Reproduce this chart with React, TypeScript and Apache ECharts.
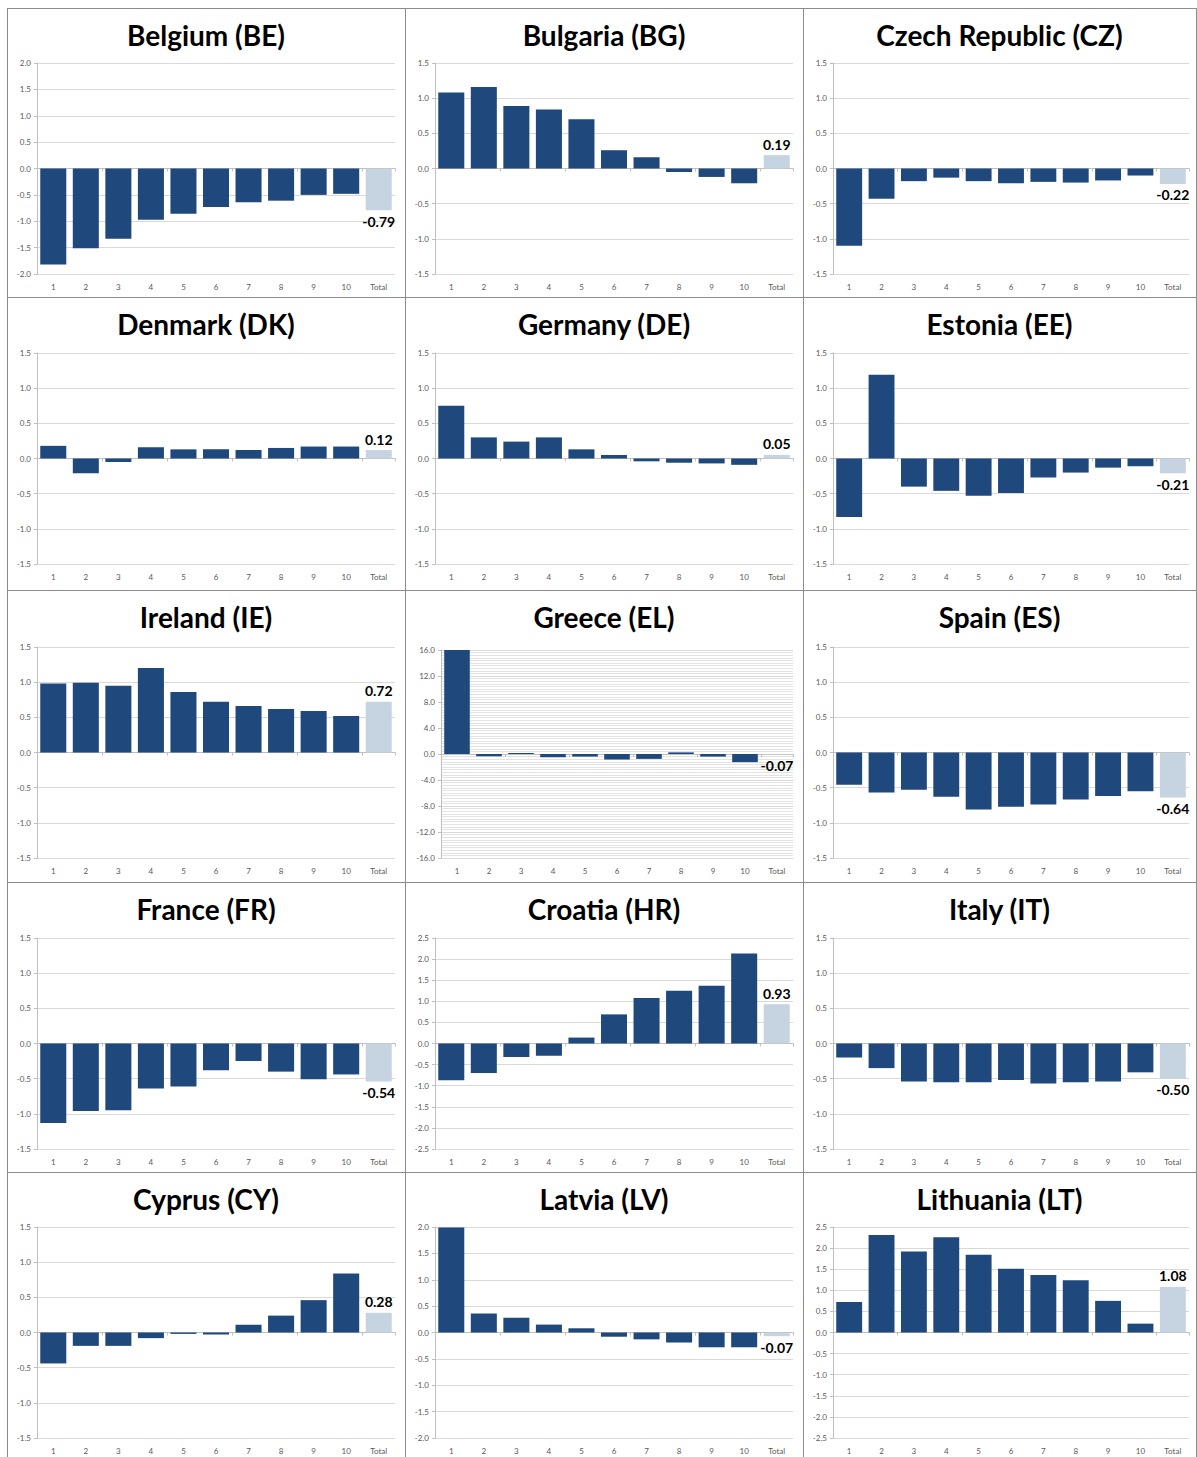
import React, { useEffect, useRef } from "react";
import * as echarts from "echarts";

const categories = ["1", "2", "3", "4", "5", "6", "7", "8", "9", "10", "Total"];

const titles = [
  "Belgium (BE)", "Bulgaria (BG)", "Czech Republic (CZ)",
  "Denmark (DK)", "Germany (DE)", "Estonia (EE)",
  "Ireland (IE)", "Greece (EL)", "Spain (ES)",
  "France (FR)", "Croatia (HR)", "Italy (IT)",
  "Cyprus (CY)", "Latvia (LV)", "Lithuania (LT)",
];

// deciles 1..10 followed by Total
const BE = [-1.82, -1.51, -1.33, -0.97, -0.86, -0.73, -0.64, -0.61, -0.5, -0.48, -0.79];
const BG = [1.08, 1.16, 0.89, 0.84, 0.7, 0.26, 0.16, -0.05, -0.12, -0.21, 0.19];
const CZ = [-1.1, -0.43, -0.18, -0.13, -0.18, -0.21, -0.19, -0.2, -0.17, -0.1, -0.22];
const DK = [0.18, -0.21, -0.05, 0.16, 0.13, 0.13, 0.12, 0.15, 0.17, 0.17, 0.12];
const DE = [0.75, 0.3, 0.24, 0.3, 0.13, 0.05, -0.04, -0.06, -0.07, -0.09, 0.05];
const EE = [-0.83, 1.19, -0.4, -0.46, -0.53, -0.49, -0.27, -0.2, -0.13, -0.11, -0.21];
const IE = [0.98, 0.99, 0.95, 1.2, 0.86, 0.72, 0.66, 0.62, 0.59, 0.52, 0.72];
const EL = [16.0, -0.35, 0.15, -0.5, -0.4, -0.85, -0.75, 0.25, -0.4, -1.25, -0.07];
const ES = [-0.46, -0.57, -0.53, -0.63, -0.81, -0.77, -0.74, -0.67, -0.62, -0.55, -0.64];
const FR = [-1.13, -0.96, -0.95, -0.64, -0.61, -0.38, -0.25, -0.4, -0.51, -0.44, -0.54];
const HR = [-0.87, -0.7, -0.32, -0.29, 0.14, 0.69, 1.08, 1.25, 1.37, 2.13, 0.93];
const IT = [-0.2, -0.35, -0.54, -0.55, -0.55, -0.52, -0.57, -0.55, -0.54, -0.41, -0.5];
const CY = [-0.44, -0.19, -0.19, -0.08, -0.02, -0.03, 0.11, 0.24, 0.46, 0.84, 0.28];
const LV = [1.99, 0.36, 0.28, 0.15, 0.08, -0.08, -0.13, -0.19, -0.28, -0.28, -0.07];
const LT = [0.72, 2.31, 1.92, 2.26, 1.84, 1.51, 1.36, 1.24, 0.75, 0.21, 1.08];

const seriesValues = [BE, BG, CZ, DK, DE, EE, IE, EL, ES, FR, HR, IT, CY, LV, LT];

// symmetric y-axis extent and major step per panel
const axisMax = [2, 1.5, 1.5, 1.5, 1.5, 1.5, 1.5, 16, 1.5, 1.5, 2.5, 1.5, 1.5, 2, 2.5];
const axisStep = [0.5, 0.5, 0.5, 0.5, 0.5, 0.5, 0.5, 4, 0.5, 0.5, 0.5, 0.5, 0.5, 0.5, 0.5];

const DARK = "#1f497d";
const LIGHT = "#c6d3e1";
const FONT = "Lato, 'Liberation Sans', sans-serif";

const colLeft = [7, 405, 803];
const colRight = [405, 803, 1196];
const rowTop = [8, 297, 590, 882, 1172];
const gridTop = [63, 353, 647, 938, 1227];

export default function App() {
  const ref = useRef<HTMLDivElement>(null);

  useEffect(() => {
    if (!ref.current) return;
    const chart = echarts.init(ref.current, undefined, { renderer: "svg" });

    const grids: any[] = [];
    const xAxes: any[] = [];
    const yAxes: any[] = [];
    const series: any[] = [];
    const graphics: any[] = [];

    titles.forEach((t, i) => {
      const r = Math.floor(i / 3);
      const c = i % 3;
      const isEL = t === "Greece (EL)";
      const left = colLeft[c] + (isEL ? 36 : 30);
      const right = colRight[c] - (c === 2 ? 7 : 10);
      const top = gridTop[r] + (isEL ? 3 : 0);
      const height = isEL ? 208 : 211;
      grids.push({ left, top, width: right - left, height, containLabel: false });

      xAxes.push({
        type: "category",
        gridIndex: i,
        data: categories,
        position: "bottom",
        axisLine: { show: false, onZero: false },
        axisTick: { show: false },
        axisLabel: { fontSize: 8, color: "#595959", fontFamily: FONT, margin: 9, interval: 0 },
        splitLine: { show: false },
      });
      xAxes.push({
        type: "category",
        gridIndex: i,
        data: categories,
        position: "bottom",
        axisLine: { show: true, onZero: true, lineStyle: { color: "#bfbfbf", width: 1 } },
        axisTick: { show: true, length: 3, inside: false, lineStyle: { color: "#bfbfbf" } },
        axisLabel: { show: false },
        splitLine: { show: false },
      });

      const m = axisMax[i];
      yAxes.push({
        type: "value",
        gridIndex: i,
        min: -m,
        max: m,
        interval: axisStep[i],
        axisLine: { show: true, lineStyle: { color: "#bfbfbf" } },
        axisTick: { show: true, length: 3, lineStyle: { color: "#bfbfbf" } },
        axisLabel: {
          fontSize: 8,
          color: "#595959",
          fontFamily: FONT,
          margin: 6,
          formatter: (v: number) => v.toFixed(1),
        },
        splitLine: { show: true, lineStyle: { color: "#d9d9d9" } },
        minorTick: { show: false, splitNumber: 10 },
        minorSplitLine: { show: isEL, lineStyle: { color: "#e3e3e3" } },
      });

      const vals = seriesValues[i];
      series.push({
        type: "bar",
        xAxisIndex: i * 2,
        yAxisIndex: i,
        barCategoryGap: "20%",
        data: vals.map((v, k) => {
          const isTotal = k === categories.length - 1;
          return {
            value: v,
            itemStyle: { color: isTotal ? LIGHT : DARK },
            label: isTotal
              ? {
                  show: true,
                  position: v >= 0 ? "top" : "bottom",
                  distance: 4,
                  formatter: () => v.toFixed(2),
                  fontSize: 14,
                  fontWeight: "bold",
                  fontFamily: FONT,
                  color: "#000",
                }
              : { show: false },
          };
        }),
      });

      graphics.push({
        type: "text",
        x: (colLeft[c] + colRight[c]) / 2,
        y: rowTop[r] + 27,
        style: {
          text: t,
          align: "center",
          verticalAlign: "middle",
          fontSize: 28,
          fontWeight: "bold",
          fontFamily: FONT,
          fill: "#000",
        },
      });
    });

    // panel borders
    const BORDER = "#8c8c8c";
    rowTop.forEach((y) => {
      graphics.push({
        type: "line",
        shape: { x1: 7, y1: y + 0.5, x2: 1196, y2: y + 0.5 },
        style: { stroke: BORDER, lineWidth: 1 },
      });
    });
    [7, 405, 803, 1196].forEach((x) => {
      graphics.push({
        type: "line",
        shape: { x1: x + 0.5, y1: 8, x2: x + 0.5, y2: 1457 },
        style: { stroke: BORDER, lineWidth: 1 },
      });
    });

    chart.setOption({
      animation: false,
      backgroundColor: "#ffffff",
      grid: grids,
      xAxis: xAxes,
      yAxis: yAxes,
      series,
      graphic: graphics,
    });

    return () => chart.dispose();
  }, []);

  return (
    <div
      ref={ref}
      style={{ position: "absolute", left: 0, top: 0, width: 1197, height: 1457, background: "#fff" }}
    />
  );
}
